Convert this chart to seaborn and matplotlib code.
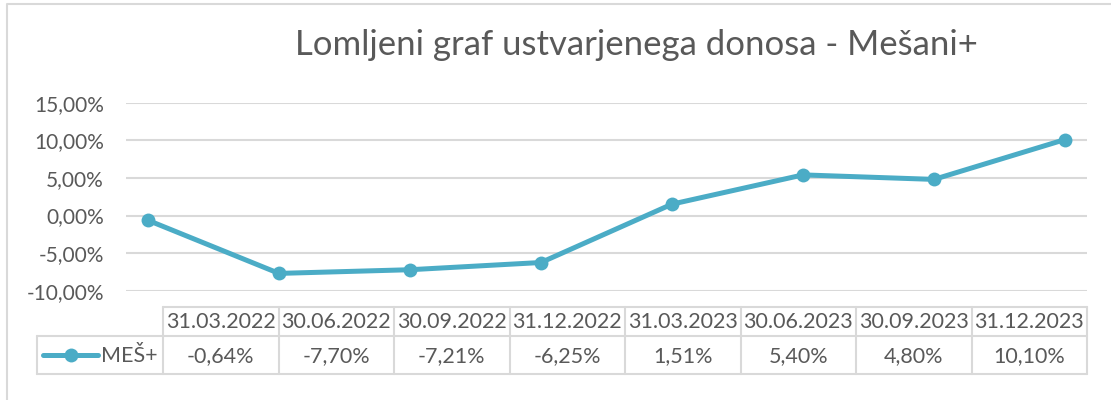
import matplotlib
matplotlib.use("Agg")
import matplotlib.pyplot as plt
import seaborn as sns
import pandas as pd
from matplotlib.lines import Line2D

# ---- data ----
dates = ["31.03.2022", "30.06.2022", "30.09.2022", "31.12.2022",
         "31.03.2023", "30.06.2023", "30.09.2023", "31.12.2023"]
values = [-0.64, -7.70, -7.21, -6.25, 1.51, 5.40, 4.80, 10.10]
value_labels = ["-0,64%", "-7,70%", "-7,21%", "-6,25%", "1,51%", "5,40%", "4,80%", "10,10%"]
series_name = "MEŠ+"
title = "Lomljeni graf ustvarjenega donosa - Mešani+"
yticks = [-10, -5, 0, 5, 10, 15]
ytick_labels = ["-10,00%", "-5,00%", "0,00%", "5,00%", "10,00%", "15,00%"]

sns.set_theme(style="white")
plt.rcParams["font.family"] = ["Lato", "DejaVu Sans"]

TXT = "#595959"
LINE = "#4bacc6"
GRID = "#d9d9d9"
W, H = 1111, 400

fig = plt.figure(figsize=(W / 100, H / 100), dpi=100)
fig.patch.set_facecolor("white")

# main plot axes (pixel geometry)
left, right, top, bottom = 126, 1087, 102.7, 290.7
ax = fig.add_axes([left / W, 1 - bottom / H, (right - left) / W, (bottom - top) / H])

df = pd.DataFrame({"idx": list(range(len(dates))), "val": values})
sns.lineplot(data=df, x="idx", y="val", ax=ax, color=LINE, linewidth=3.6,
             marker="o", markersize=10, markeredgewidth=0, markeredgecolor=LINE)

# x mapping: point 0 at px 148, step 131 px
x0, step = 148, 131
ax.set_xlim((left - x0) / step, (right - x0) / step)
ax.set_ylim(-10, 15)
ax.set_yticks(yticks)
ax.set_yticklabels(ytick_labels, color=TXT, fontsize=15)
ax.tick_params(axis="y", length=0, pad=16)
ax.set_xticks([])
ax.set_xlabel("")
ax.set_ylabel("")
for s in ax.spines.values():
    s.set_visible(False)
ax.grid(axis="y", color=GRID, linewidth=1.5)
ax.set_axisbelow(True)
ax.set_facecolor("none")

# overlay axes in pixel coordinates for frame, title and data table
ov = fig.add_axes([0, 0, 1, 1], zorder=-1)
ov.set_xlim(0, W)
ov.set_ylim(H, 0)
ov.axis("off")

# chart frame (left and top edges visible)
ov.plot([7, 7, W + 5], [H + 5, 4, 4], color=GRID, linewidth=1.5, solid_capstyle="butt")

ov.text(636, 45, title, ha="center", va="center", fontsize=25, color=TXT)

# data table
tx0, tx1 = 163, 1087
cw = (tx1 - tx0) / len(dates)
ry0, ry1, ry2 = 306.7, 335.7, 374
lw = 1.5
ov.plot([tx0, tx1], [ry0, ry0], color=GRID, lw=lw)
ov.plot([37, tx1], [ry1, ry1], color=GRID, lw=lw)
ov.plot([37, tx1], [ry2, ry2], color=GRID, lw=lw)
ov.plot([37, 37], [ry1, ry2], color=GRID, lw=lw)
for i in range(len(dates) + 1):
    xx = tx0 + i * cw
    ov.plot([xx, xx], [ry0, ry2], color=GRID, lw=lw)
for i, (d, v) in enumerate(zip(dates, value_labels)):
    cx = tx0 + (i + 0.5) * cw
    ov.text(cx, (ry0 + ry1) / 2 + 1, d, ha="center", va="center", fontsize=15.5, color=TXT)
    ov.text(cx, (ry1 + ry2) / 2 + 1, v, ha="center", va="center", fontsize=15.5, color=TXT)

# legend key in table
ov.add_line(Line2D([43, 98], [355, 355], color=LINE, linewidth=3.6, solid_capstyle="round"))
ov.add_line(Line2D([70.5], [355], color=LINE, marker="o", markersize=10, markeredgewidth=0))
ov.text(101, 356, series_name, ha="left", va="center", fontsize=15.5, color=TXT)

fig.savefig("out.png", dpi=100, facecolor="white")
